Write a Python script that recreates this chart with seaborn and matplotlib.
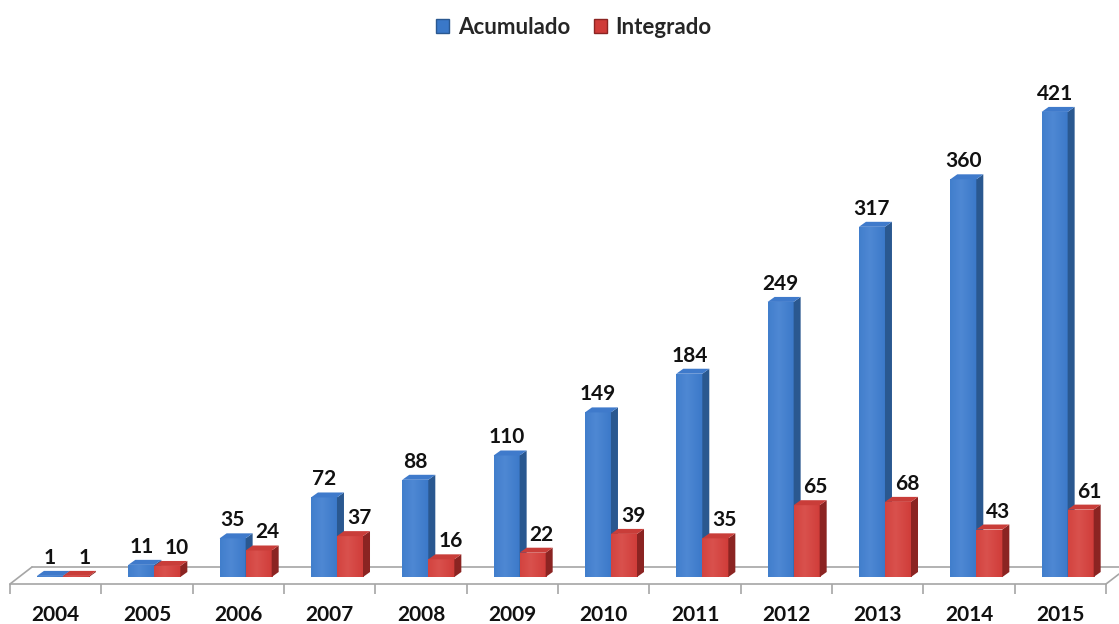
import numpy as np
import pandas as pd
import matplotlib
matplotlib.use("Agg")
import matplotlib.pyplot as plt
from matplotlib.patches import Polygon, Patch
from matplotlib.lines import Line2D
import seaborn as sns

years = ["2004", "2005", "2006", "2007", "2008", "2009",
         "2010", "2011", "2012", "2013", "2014", "2015"]
acumulado = [1, 11, 35, 72, 88, 110, 149, 184, 249, 317, 360, 421]
integrado = [1, 10, 24, 37, 16, 22, 39, 35, 65, 68, 43, 61]
series = ["Acumulado", "Integrado"]

# front / side / top face colours per series
front = {"Acumulado": "#3A78C8", "Integrado": "#CF3B38"}
side = {"Acumulado": "#2A5890", "Integrado": "#8B2422"}
top = {"Acumulado": "#3F7ACB", "Integrado": "#C93D39"}
light = {"Acumulado": "#5C93DB", "Integrado": "#E0605B"}
# horizontal nudge of the value labels (pixels)
label_dx = {"Acumulado": 0, "Integrado": 9}

df = pd.DataFrame({
    "year": years * 2,
    "value": acumulado + integrado,
    "series": [series[0]] * len(years) + [series[1]] * len(years),
})

sns.set_theme(style="white")
plt.rcParams["font.family"] = ["Lato", "DejaVu Sans"]

W, H = 1119, 624
fig = plt.figure(figsize=(W / 100, H / 100), dpi=100)
# axes: x from px 10 to 1106, y from px 584 (bottom) to 60 (top)
ax = fig.add_axes([10 / W, (H - 584) / H, 1096 / W, 524 / H])
ax.set_zorder(2)

sns.barplot(data=df, x="year", y="value", hue="series", order=years,
            hue_order=series, palette=front, width=0.57, gap=0,
            saturation=1, legend=False, ax=ax, linewidth=0)

ylo, yhi = -6.33, 468
ax.set_xlim(-0.5, len(years) - 0.5)
ax.set_ylim(ylo, yhi)

ppx = 1096 / len(years)          # pixels per x unit
ppy = 524 / (yhi - ylo)          # pixels per y unit
ddx, ddy = 7 / ppx, 5 / ppy      # depth offset of the bar boxes
shift = 0.08

n = len(years)
bars = list(ax.patches)
grad = np.linspace(0, 1, 64)
for k, p in enumerate(bars):
    s = series[k // n]
    i = k % n
    p.set_x(p.get_x() + shift)
    x0, w, h = p.get_x(), p.get_width(), p.get_height()
    x1 = x0 + w
    z = 3 + i * 0.1 + (k // n) * 0.05
    p.set_zorder(z)
    # horizontal shading across the front face
    prof = 1 - np.abs(grad - 0.4) * 1.6
    prof = np.clip(prof, 0, 1)
    c0 = np.array(matplotlib.colors.to_rgb(front[s]))
    c1 = np.array(matplotlib.colors.to_rgb(light[s]))
    img = c0[None, :] + (c1 - c0)[None, :] * prof[:, None] * 0.6
    im = ax.imshow(img[None, :, :], extent=(x0, x1, 0, h), aspect="auto",
                   zorder=z + 0.01, interpolation="bilinear")
    im.set_clip_path(p)
    ax.add_patch(Polygon([(x1, 0), (x1, h), (x1 + ddx, h + ddy), (x1 + ddx, ddy)],
                         closed=True, facecolor=side[s], edgecolor="none",
                         zorder=z + 0.02))
    ax.add_patch(Polygon([(x0, h), (x1, h), (x1 + ddx, h + ddy), (x0 + ddx, h + ddy)],
                         closed=True, facecolor=top[s], edgecolor="none",
                         zorder=z + 0.02))
    val = acumulado[i] if s == "Acumulado" else integrado[i]
    ax.annotate(f"{val}", ((x0 + x1) / 2, val), xytext=(label_dx[s], 8),
                textcoords="offset pixels", ha="center", va="bottom",
                fontsize=15, fontweight="bold", color="#111111",
                zorder=10, annotation_clip=False)

# floor of the chart, drawn behind the axes
def fp(x, y):
    return (x / W, 1 - y / H)

floor = [fp(10, 584), fp(32, 567), fp(1119, 567), fp(1119, 573.5), fp(1106, 584)]
fig.patches.append(Polygon(floor, closed=True, transform=fig.transFigure,
                           facecolor="white", edgecolor="none", zorder=0))
for a, b in [((10, 584), (32, 567)), ((32, 567), (1119, 567)),
             ((10, 584), (1106, 584)), ((1106, 584), (1119, 574))]:
    (xa, ya), (xb, yb) = fp(*a), fp(*b)
    fig.add_artist(Line2D([xa, xb], [ya, yb], transform=fig.transFigure,
                          color="#A6A6A6", lw=1.2, zorder=1))
ax.patch.set_alpha(0)

sns.despine(ax=ax, left=True, bottom=True, top=True, right=True)
ax.set_xticks(np.arange(-0.5, n), minor=True)
ax.tick_params(axis="x", which="minor", length=7, color="#A6A6A6", width=1.2,
               bottom=True)
ax.tick_params(axis="x", which="major", length=0, pad=15)
ax.set_xticks(range(n))
ax.set_xticklabels(years, fontsize=15, fontweight="bold", color="#111111")
ax.set_yticks([])
ax.set_xlabel("")
ax.set_ylabel("")

handles = [Patch(facecolor=front[s], edgecolor=side[s], linewidth=1, label=s)
           for s in series]
fig.legend(handles=handles, loc="upper center", bbox_to_anchor=(0.513, 1.005),
           ncol=2, frameon=False, handlelength=0.58, handleheight=0.58,
           handletextpad=0.38, columnspacing=1.1,
           prop={"family": "Lato", "weight": "bold", "size": 16})

fig.savefig("out.png", dpi=100)
